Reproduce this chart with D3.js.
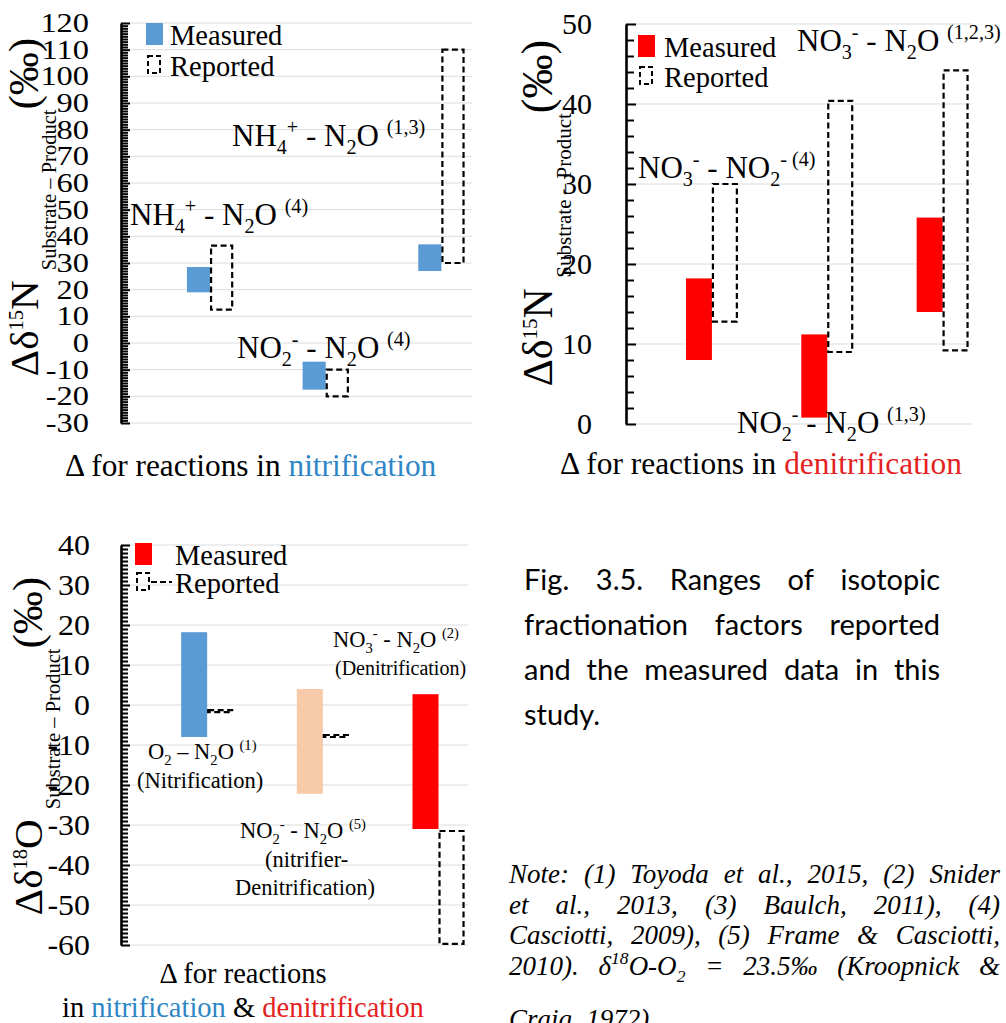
<!DOCTYPE html>
<html>
<head>
<meta charset="utf-8">
<script src="https://cdn.jsdelivr.net/npm/d3@7"></script>
<style>
  body { margin: 0; background: #fff; }
  svg { display: block; }
  .serif, .serif text { font-family: "Liberation Serif", "Tinos", "Nimbus Roman", "Times New Roman", "DejaVu Serif", serif; }
  text { white-space: pre; }
</style>
</head>
<body>
<svg id="fig" class="serif" width="1006" height="1023"></svg>
<script>
// ---- data: ranges [low, high] in per mil

// d15N, nitrification
var nitCats = ["NH4-N2O (4)", "NO2-N2O (4)", "NH4-N2O (1,3)"];
var nitMeasured = [[19, 28.5], [-17.5, -7], [27, 37]];
var nitReported = [[12.5, 36.5], [-20, -10], [30, 110]];
var nitTicks = [-30, -20, -10, 0, 10, 20, 30, 40, 50, 60, 70, 80, 90, 100, 110, 120];

// d15N, denitrification
var denCats = ["NO3-NO2 (4)", "NO2-N2O (1,3)", "NO3-N2O (1,2,3)"];
var denMeasured = [[8, 18.2], [0.8, 11.2], [14, 25.8]];
var denReported = [[12.8, 30], [9, 40.4], [9.2, 44.2]];
var denTicks = [0, 10, 20, 30, 40, 50];

// d18O, both
var oxyCats = ["O2-N2O (1)", "NO2-N2O (5)", "NO3-N2O (2)"];
var oxyMeasured = [[-8, 18.2], [-22.2, 4], [-31, 2.7]];
var oxyReported = [[-1.8, -1.3], [-8, -7.5], [-59.7, -31.5]];
var oxyTicks = [-60, -50, -40, -30, -20, -10, 0, 10, 20, 30, 40];

var BLUE = "#5b9bd5", RED = "#ff0000", PEACH = "#f7caa9";
var TXT_BLUE = "#2f86c6", TXT_RED = "#e3221f";
var SERIF = '"Liberation Serif", "Tinos", "Nimbus Roman", "Times New Roman", "DejaVu Serif", serif';

var svg = d3.select("#fig");

// text with sub/superscripts: parts = [[string, kind, colour], ...]
function rich(parent, parts, size, o) {
  o = o || {};
  var small = o.small || 0.65, subDy = o.subDy || 0.27, supDy = o.supDy || 0.38, big = o.big || 1;
  var t = parent.append("text").attr("font-size", size);
  var cur = 0;
  parts.forEach(function (p) {
    var kind = p[1] || "n";
    var shift = kind == "sub" ? size * subDy : kind == "sup" ? -size * supDy : 0;
    var ts = t.append("tspan").text(p[0]).attr("dy", shift - cur);
    if (kind == "sub" || kind == "sup") ts.attr("font-size", size * small);
    if (kind == "big") ts.attr("font-size", size * big);
    if (p[2]) ts.attr("fill", p[2]);
    cur = shift;
  });
  return t;
}

function panel(cfg) {
  var g = svg.append("g");
  var x = d3.scaleBand().domain(cfg.cats).range(cfg.xr);
  var y = d3.scaleLinear().domain(cfg.yd).range(cfg.yr);
  var bw = x.bandwidth();

  g.append("g").selectAll("line")
    .data(cfg.ticks)
    .join("line")
    .attr("x1", cfg.xr[0]).attr("x2", cfg.gridEnd)
    .attr("y1", function (d) { return y(d); })
    .attr("y2", function (d) { return y(d); })
    .attr("stroke", "#dcdcdc").attr("stroke-width", 1);

  g.append("g").selectAll("rect")
    .data(cfg.measured)
    .join("rect")
    .attr("x", function (d, i) { return x(cfg.cats[i]) + cfg.off * bw; })
    .attr("width", cfg.bw * bw)
    .attr("y", function (d) { return y(d[1]); })
    .attr("height", function (d) { return y(d[0]) - y(d[1]); })
    .attr("fill", function (d, i) { return cfg.colors[i]; });

  g.append("g").selectAll("rect")
    .data(cfg.reported)
    .join("rect")
    .attr("x", function (d, i) { return x(cfg.cats[i]) + (cfg.off + cfg.bw) * bw + 1; })
    .attr("width", cfg.bw * bw - 2)
    .attr("y", function (d) { return y(d[1]); })
    .attr("height", function (d) { return y(d[0]) - y(d[1]); })
    .attr("fill", "none")
    .attr("stroke", "#000")
    .attr("stroke-width", 2.2)
    .attr("stroke-dasharray", "6,3.5");

  // comb of minor ticks
  var minor = d3.axisRight(y)
    .tickValues(d3.range(cfg.yd[0], cfg.yd[1] + 0.01, cfg.minorStep))
    .tickSize(cfg.minorLen).tickSizeOuter(0).tickFormat("");
  var ax = g.append("g").attr("transform", "translate(" + cfg.xr[0] + ",0)").call(minor);
  ax.select(".domain").attr("stroke-width", 2.6);
  ax.selectAll(".tick line").attr("stroke-width", 2)
    .attr("x2", function (d) { return d % 10 == 0 ? cfg.minorLen + 2 : cfg.minorLen; });

  var lab = d3.axisLeft(y).tickValues(cfg.ticks).tickSize(0).tickPadding(cfg.pad)
    .tickFormat(function (d) { return String(d); });
  var ly = g.append("g").attr("transform", "translate(" + cfg.xr[0] + ",0)").call(lab)
    .attr("font-family", SERIF);
  ly.select(".domain").remove();
  ly.selectAll("text")
    .attr("font-size", cfg.labSize)
    .attr("fill", "#000")
    .each(function () {
      var w = this.getComputedTextLength();
      d3.select(this).attr("textLength", w * cfg.stretch).attr("lengthAdjust", "spacingAndGlyphs");
    });

  // y title
  rich(g, cfg.title, cfg.titleSize, { small: 0.5, subDy: 0.45, supDy: 0.36, big: 1.05 })
    .attr("text-anchor", "middle")
    .attr("transform", "translate(" + cfg.titleX + "," + cfg.titleY + ") rotate(-90)");

  // legend
  var lg = cfg.legend;
  g.append("rect").attr("x", lg.x).attr("y", lg.y).attr("width", 17).attr("height", 22).attr("fill", cfg.legendColor);
  g.append("rect").attr("x", lg.x + 2).attr("y", lg.y + lg.dy + 2).attr("width", 12).attr("height", 17)
    .attr("fill", "none").attr("stroke", "#000").attr("stroke-width", 2).attr("stroke-dasharray", "5,3");
  if (lg.dash) {
    g.append("line").attr("x1", lg.x + 16).attr("x2", lg.x + 37)
      .attr("y1", lg.y + lg.dy + 11).attr("y2", lg.y + lg.dy + 11)
      .attr("stroke", "#000").attr("stroke-width", 2).attr("stroke-dasharray", "6,3");
  }
  g.append("text").attr("x", lg.tx).attr("y", lg.y + 22).attr("font-size", 28.5).text("Measured");
  g.append("text").attr("x", lg.tx).attr("y", lg.y + 22 + lg.dy).attr("font-size", 28.5).text("Reported");

  // reaction labels
  cfg.labels.forEach(function (l, i) {
    var p = cfg.labelPos[i];
    rich(g, l, p[2]).attr("x", p[0]).attr("y", p[1]);
  });

  cfg.xlab.forEach(function (l) {
    var t = rich(g, l.parts, l.size).attr("x", l.x).attr("y", l.y);
    if (l.anchor) t.attr("text-anchor", l.anchor);
  });
}

var nitLabels = [
  [["NH"], ["4", "sub"], ["+", "sup"], [" - N"], ["2", "sub"], ["O "], ["(4)", "sup"]],
  [["NO"], ["2", "sub"], ["-", "sup"], [" - N"], ["2", "sub"], ["O "], ["(4)", "sup"]],
  [["NH"], ["4", "sub"], ["+", "sup"], [" - N"], ["2", "sub"], ["O "], ["(1,3)", "sup"]]
];
var denLabels = [
  [["NO"], ["3", "sub"], ["-", "sup"], [" - NO"], ["2", "sub"], ["- ", "sup"], ["(4)", "sup"]],
  [["NO"], ["2", "sub"], ["-", "sup"], [" - N"], ["2", "sub"], ["O "], ["(1,3)", "sup"]],
  [["NO"], ["3", "sub"], ["-", "sup"], [" - N"], ["2", "sub"], ["O "], ["(1,2,3)", "sup"]]
];
var oxyLabels = [
  [["O"], ["2", "sub"], [" – N"], ["2", "sub"], ["O "], ["(1)", "sup"]],
  [["(Nitrification)"]],
  [["NO"], ["2", "sub"], ["-", "sup"], [" - N"], ["2", "sub"], ["O "], ["(5)", "sup"]],
  [["(nitrifier-"]],
  [["Denitrification)"]],
  [["NO"], ["3", "sub"], ["-", "sup"], [" - N"], ["2", "sub"], ["O "], ["(2)", "sup"]],
  [["(Denitrification)"]]
];

var titleN = [["Δδ"], ["15", "sup"], ["N "], ["Substrate – Product", "sub"], ["(‰)", "big"]];
var titleO = [["Δδ"], ["18", "sup"], ["O "], ["Substrate – Product", "sub"], ["(‰)", "big"]];

panel({
  cats: nitCats, measured: nitMeasured, reported: nitReported, ticks: nitTicks,
  colors: [BLUE, BLUE, BLUE], legendColor: BLUE,
  xr: [121, 468], yd: [-30, 120], yr: [423, 23], gridEnd: 472,
  minorStep: 1, minorLen: 7, pad: 32, labSize: 27, stretch: 1.2,
  off: 0.57, bw: 0.2,
  title: titleN, titleSize: 41, titleX: 38, titleY: 207,
  legend: { x: 146, y: 23, dy: 31, tx: 170 },
  labels: nitLabels,
  labelPos: [[130, 225, 31], [237, 358, 31], [232, 146, 31]],
  xlab: [{ parts: [["Δ for reactions in "], ["nitrification", null, TXT_BLUE]], size: 31.3, x: 65, y: 476 }]
});

panel({
  cats: denCats, measured: denMeasured, reported: denReported, ticks: denTicks,
  colors: [RED, RED, RED], legendColor: RED,
  xr: [626, 972], yd: [0, 50], yr: [424, 24], gridEnd: 972,
  minorStep: 2, minorLen: 8, pad: 34, labSize: 30, stretch: 1,
  off: 0.52, bw: 0.225,
  title: titleN, titleSize: 42, titleX: 552, titleY: 213,
  legend: { x: 638, y: 35, dy: 30, tx: 664 },
  labels: denLabels,
  labelPos: [[638, 178, 31], [737, 433, 31], [797, 51, 31]],
  xlab: [{ parts: [["Δ for reactions in "], ["denitrification", null, TXT_RED]], size: 31.4, x: 560, y: 474 }]
});

panel({
  cats: oxyCats, measured: oxyMeasured, reported: oxyReported, ticks: oxyTicks,
  colors: [BLUE, PEACH, RED], legendColor: RED,
  xr: [121, 468], yd: [-60, 40], yr: [945, 545], gridEnd: 468,
  minorStep: 1, minorLen: 7, pad: 31, labSize: 29, stretch: 1.1,
  off: 0.52, bw: 0.225,
  title: titleO, titleSize: 41, titleX: 42, titleY: 746,
  legend: { x: 135, y: 543, dy: 28, tx: 175, dash: true },
  labels: oxyLabels,
  labelPos: [[148, 759, 22.5], [137, 788, 22.5], [240, 838, 22.5], [265, 867, 22.5],
             [235, 895, 22.5], [333, 647, 22.5], [335, 675, 20]],
  xlab: [
    { parts: [["Δ for reactions"]], size: 28.5, x: 243, y: 983, anchor: "middle" },
    { parts: [["in "], ["nitrification", null, TXT_BLUE], [" & "], ["denitrification", null, TXT_RED]], size: 28.5, x: 62, y: 1017 }
  ]
});

// ---- caption and note, justified like the source document
function justify(parent, lines, x0, x1, y0, lh, size, family, style) {
  lines.forEach(function (words, li) {
    var nodes = words.map(function (w) {
      return rich(parent, typeof w == "string" ? [[w]] : w, size)
        .style("font-family", family).attr("font-style", style)
        .attr("y", y0 + li * lh);
    });
    var widths = nodes.map(function (n) { return n.node().getComputedTextLength(); });
    var last = li == lines.length - 1 && words.length < 4;
    var gap = last ? size * 0.28 : (x1 - x0 - d3.sum(widths)) / (words.length - 1);
    var cx = x0;
    nodes.forEach(function (n, i) { n.attr("x", cx); cx += widths[i] + gap; });
  });
}

var captionLines = [
  ["Fig.", "3.5.", "Ranges", "of", "isotopic"],
  ["fractionation", "factors", "reported"],
  ["and", "the", "measured", "data", "in", "this"],
  ["study."]
];
justify(svg.append("g"), captionLines, 524, 940, 590, 45, 29, '"Lato", "Open Sans", sans-serif', "normal");

var noteLines = [
  ["Note:", "(1)", "Toyoda", "et", "al.,", "2015,", "(2)", "Snider"],
  ["et", "al.,", "2013,", "(3)", "Baulch,", "2011),", "(4)"],
  ["Casciotti,", "2009),", "(5)", "Frame", "&", "Casciotti,"],
  ["2010).", [["δ"], ["18", "sup"], ["O-O"], ["2", "sub"]], "=", "23.5‰", "(Kroopnick", "&"]
];
var noteLast = [["Craig,", "1972)"]];
var ng = svg.append("g");
justify(ng, noteLines, 509, 1000, 883, 30.5, 27, SERIF, "italic");
justify(ng, noteLast, 509, 1000, 1028, 0, 27, SERIF, "italic");
</script>
</body>
</html>
